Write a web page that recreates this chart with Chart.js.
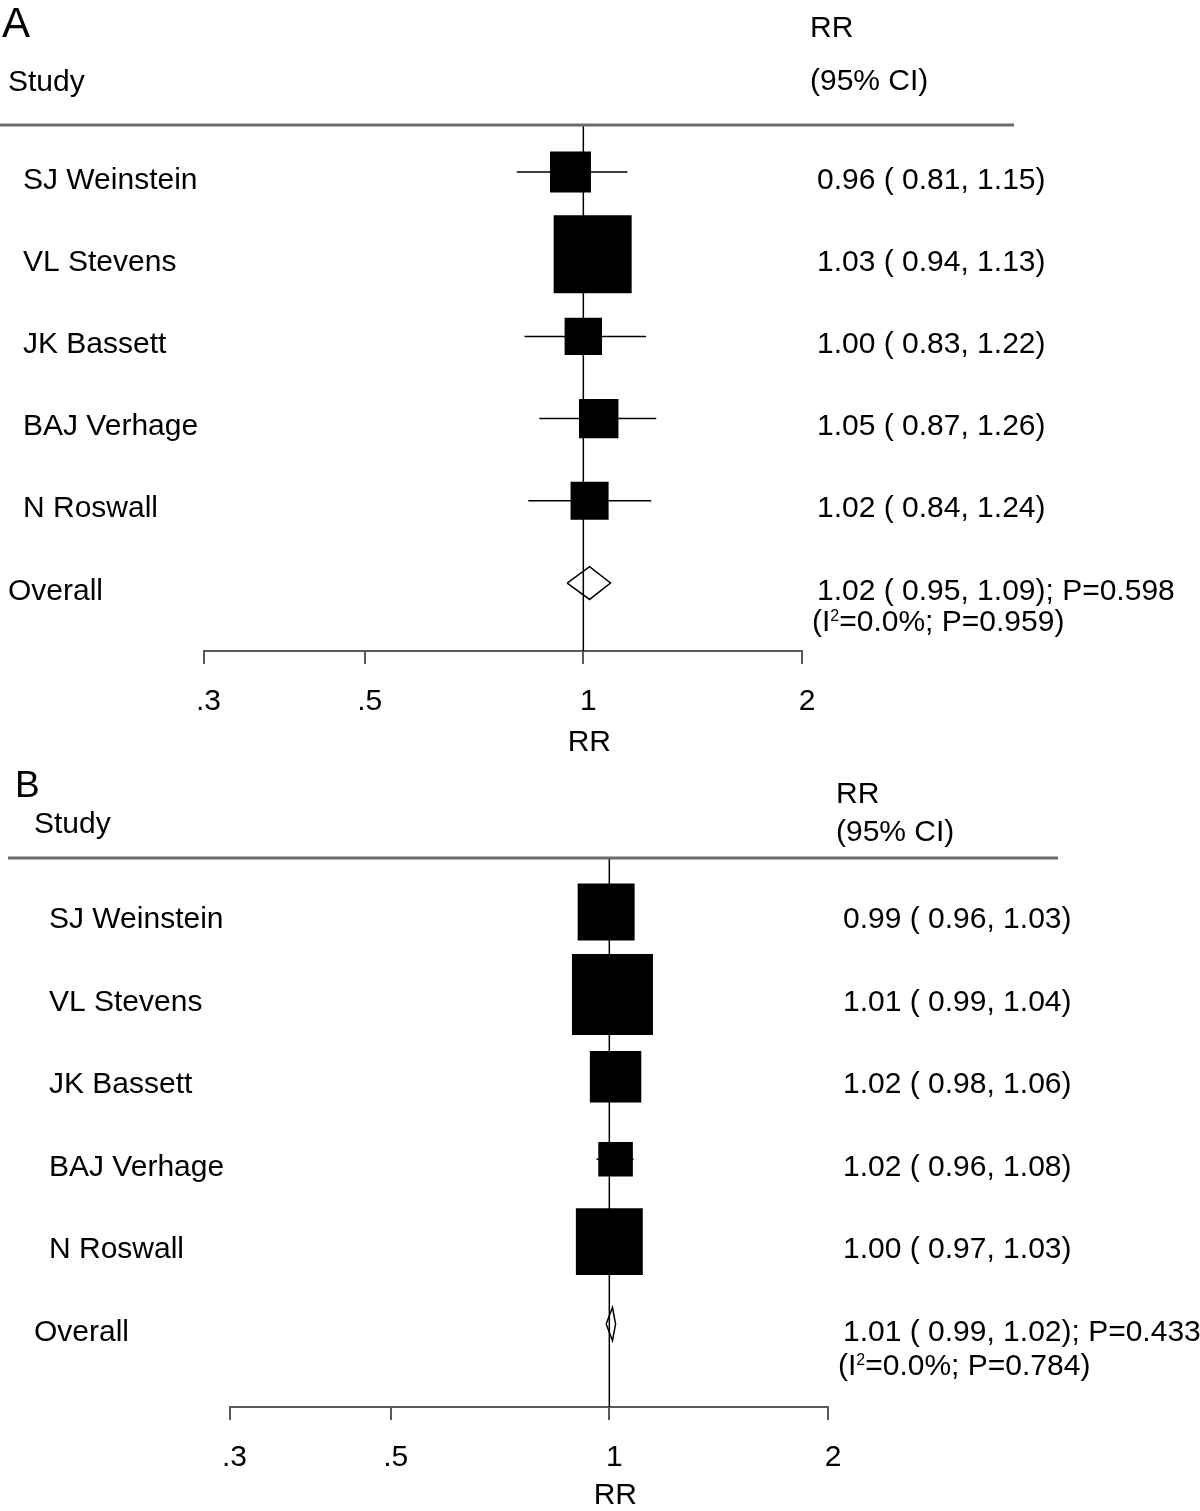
<!DOCTYPE html>
<html>
<head>
<meta charset="utf-8">
<script src="https://cdn.jsdelivr.net/npm/chart.js@4.4.1/dist/chart.umd.min.js"></script>
<style>
  html, body { margin: 0; padding: 0; background: #fff; }
  #wrap { position: relative; width: 1200px; height: 1511px; }
  canvas { position: absolute; left: 0; }
</style>
</head>
<body>
<div id="wrap">
  <canvas id="panelA" width="1200" height="760" style="top:0"></canvas>
  <canvas id="panelB" width="1200" height="751" style="top:760px"></canvas>
</div>
<script>
const studies = ['SJ Weinstein', 'VL Stevens', 'JK Bassett', 'BAJ Verhage', 'N Roswall'];
const tickValues = [0.3, 0.5, 1, 2];
const tickLabels = ['.3', '.5', '1', '2'];

// panel A
const rrA = [0.96, 1.03, 1.00, 1.05, 1.02];
const lowA = [0.81, 0.94, 0.83, 0.87, 0.84];
const highA = [1.15, 1.13, 1.22, 1.26, 1.24];
const weightA = [13.8, 50.0, 11.5, 12.8, 11.9];
const overallA = [1.02, 0.95, 1.09]; // rr, low, high
const pOverallA = '0.598';
const hetA = ['0.0%', '0.959'];

// panel B
const rrB = [0.99, 1.01, 1.02, 1.02, 1.00];
const lowB = [0.96, 0.99, 0.98, 0.96, 0.97];
const highB = [1.03, 1.04, 1.06, 1.08, 1.03];
const weightB = [17.9, 36.2, 14.6, 6.6, 24.7];
const overallB = [1.01, 0.99, 1.02];
const pOverallB = '0.433';
const hetB = ['0.0%', '0.784'];

const FONT = '"Liberation Sans", Arial, Helvetica, sans-serif';
const TXT = 30;
Chart.defaults.font.family = FONT;
Chart.defaults.color = '#000';

function ciText(r, l, h) {
  return r.toFixed(2) + ' ( ' + l.toFixed(2) + ', ' + h.toFixed(2) + ')';
}

function textPlugin(p, lay) {
  return {
    id: 'forestText',
    afterDraw(chart) {
      const ctx = chart.ctx;
      const y = chart.scales.y;
      const x = chart.scales.x;
      ctx.save();
      ctx.fillStyle = '#000';
      ctx.textBaseline = 'alphabetic';
      ctx.textAlign = 'left';

      // separator under header
      ctx.strokeStyle = '#6b6b6b';
      ctx.lineWidth = 3;
      ctx.beginPath();
      ctx.moveTo(lay.sepFrom, lay.top);
      ctx.lineTo(lay.sepTo, lay.top);
      ctx.stroke();

      ctx.font = lay.letterSize + 'px ' + FONT;
      ctx.fillText(p.letter, lay.letterX, lay.letterBase);

      ctx.font = TXT + 'px ' + FONT;
      ctx.fillText('Study', lay.studyX, lay.studyBase);
      ctx.fillText('RR', lay.headX, lay.rrBase);
      ctx.fillText('(95% CI)', lay.headX, lay.ciBase);

      p.rr.forEach((v, i) => {
        const py = y.getPixelForValue(i) + 16.5;
        ctx.fillText(studies[i], lay.nameX, py);
        ctx.fillText(ciText(v, p.low[i], p.high[i]), lay.valX, py);
      });
      const oy = y.getPixelForValue(p.rr.length);
      ctx.fillText('Overall', lay.studyX, oy + 16.5);
      ctx.fillText(ciText(p.overall[0], p.overall[1], p.overall[2]) + '; P=' + p.pOverall, lay.valX, oy + 16.5);

      // heterogeneity line with superscript
      const hy = oy + lay.hetOff;
      let hx = lay.valX - 5;
      ctx.fillText('(I', hx, hy);
      hx += ctx.measureText('(I').width;
      ctx.font = '16px ' + FONT;
      ctx.fillText('2', hx, hy - 10);
      hx += ctx.measureText('2').width;
      ctx.font = TXT + 'px ' + FONT;
      ctx.fillText('=' + p.het[0] + '; P=' + p.het[1] + ')', hx, hy);

      // axis title
      ctx.textAlign = 'center';
      ctx.fillText('RR', x.getPixelForValue(1) + 6, lay.titleBase);
      ctx.restore();
    }
  };
}

function forest(id, p, lay) {
  const n = p.rr.length;
  const maxW = Math.max(...p.weight);
  const radius = p.weight.map(w => lay.maxSide * Math.sqrt(w / maxW) / (2 * Math.SQRT1_2));
  const datasets = [];
  datasets.push({
    type: 'scatter',
    data: p.rr.map((v, i) => ({ x: v, y: i })),
    pointStyle: 'rect',
    pointRadius: radius,
    backgroundColor: '#000',
    borderWidth: 0
  });
  datasets.push({
    type: 'line',
    data: [
      { x: p.overall[1], y: n },
      { x: p.overall[0], y: n - 0.2 },
      { x: p.overall[2], y: n },
      { x: p.overall[0], y: n + 0.2 },
      { x: p.overall[1], y: n }
    ],
    borderColor: '#000', borderWidth: 1.5, pointRadius: 0, fill: false, tension: 0
  });
  p.rr.forEach((v, i) => {
    datasets.push({
      type: 'line',
      data: [{ x: p.low[i], y: i }, { x: p.high[i], y: i }],
      borderColor: '#000', borderWidth: 1.5, pointRadius: 0, fill: false
    });
  });
  datasets.push({
    type: 'line',
    data: [{ x: 1, y: lay.yMin }, { x: 1, y: lay.yMax }],
    borderColor: '#000', borderWidth: 1.5, pointRadius: 0, fill: false
  });

  const H = document.getElementById(id).height;
  return new Chart(document.getElementById(id).getContext('2d'), {
    type: 'scatter',
    data: { datasets: datasets },
    options: {
      responsive: false,
      animation: false,
      events: [],
      layout: {
        padding: { left: lay.left, right: 1200 - lay.right, top: lay.top, bottom: H - lay.bottom - 100 }
      },
      plugins: { legend: { display: false }, tooltip: { enabled: false } },
      scales: {
        x: {
          type: 'logarithmic',
          min: 0.3,
          max: 2,
          bounds: 'data',
          position: 'bottom',
          afterBuildTicks: s => { s.ticks = tickValues.map(v => ({ value: v })); },
          afterFit: s => { s.height = 100; },
          ticks: {
            callback: v => tickLabels[tickValues.indexOf(v)],
            font: { size: TXT },
            color: '#000',
            padding: 20,
            labelOffset: 5,
            maxRotation: 0,
            autoSkip: false
          },
          grid: { drawOnChartArea: false, drawTicks: true, tickLength: 13, color: '#5a5a5a', lineWidth: 2 },
          border: { display: true, color: '#5a5a5a', width: 2 }
        },
        y: { type: 'linear', display: false, reverse: true, min: lay.yMin, max: lay.yMax }
      }
    },
    plugins: [textPlugin(p, lay)]
  });
}

forest('panelA',
  { letter: 'A', rr: rrA, low: lowA, high: highA, weight: weightA, overall: overallA, pOverall: pOverallA, het: hetA },
  { left: 203.5, right: 802, top: 125, bottom: 651, yMin: -0.572, yMax: 5.827, maxSide: 78,
    sepFrom: 0, sepTo: 1014, letterSize: 42, letterX: 2, letterBase: 37,
    studyX: 8, nameX: 23, headX: 810, valX: 817, studyBase: 91, rrBase: 37, ciBase: 90,
    hetOff: 48, titleBase: 751 });

forest('panelB',
  { letter: 'B', rr: rrB, low: lowB, high: highB, weight: weightB, overall: overallB, pOverall: pOverallB, het: hetB },
  { left: 229.5, right: 828, top: 98, bottom: 647, yMin: -0.655, yMax: 6.007, maxSide: 81,
    sepFrom: 8, sepTo: 1058, letterSize: 37, letterX: 15, letterBase: 37,
    studyX: 34, nameX: 49, headX: 836, valX: 843, studyBase: 72.5, rrBase: 42.5, ciBase: 80.5,
    hetOff: 51, titleBase: 744 });
</script>
</body>
</html>
